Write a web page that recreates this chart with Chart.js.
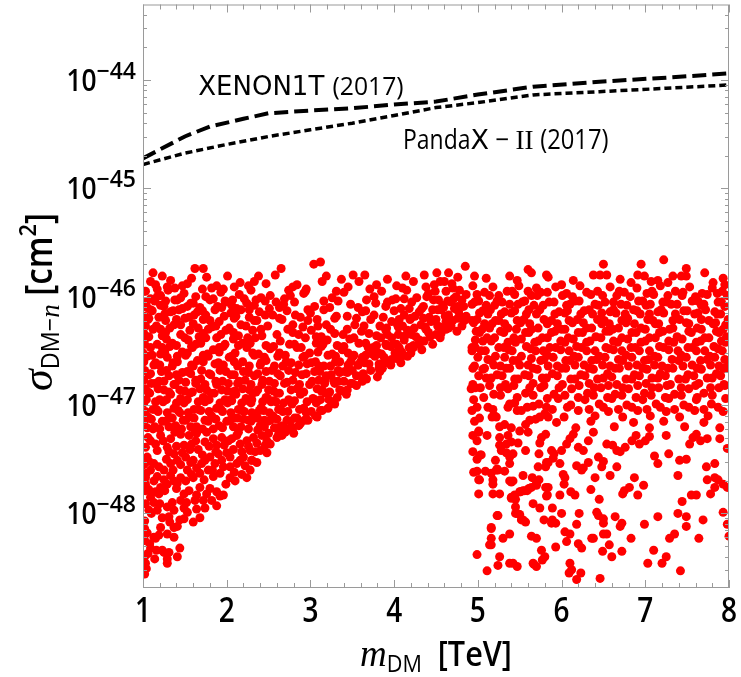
<!DOCTYPE html>
<html>
<head>
<meta charset="utf-8">
<title>DM-nucleon cross section scan</title>
<script src="https://cdn.jsdelivr.net/npm/chart.js@4.4.1/dist/chart.umd.min.js"></script>
<style>
  html, body { margin: 0; padding: 0; background: #fff; }
  #wrap { width: 741px; height: 677px; }
</style>
</head>
<body>
<div id="wrap"><canvas id="chart" width="741" height="677"></canvas></div>
<script>
// Axis ranges and ticks
const xRange = [1, 8];
const yRange = [2.05e-49, 4.97e-44];
const xTicks = [1, 2, 3, 4, 5, 6, 7, 8];
const yDecades = [-48, -47, -46, -45, -44];

// Experimental limits (m in TeV, sigma in cm^2)
const xenonMass  = [1.0, 1.5, 1.8, 2.2, 2.5, 3.0, 3.5, 4.0, 4.5, 5.0, 5.66, 6.45, 7.25, 8.0];
const xenonSigma = [1.89e-45, 3.01e-45, 3.72e-45, 4.38e-45, 4.93e-45, 5.22e-45, 5.48e-45, 5.93e-45, 6.32e-45, 7.33e-45, 8.67e-45, 9.64e-45, 1.05e-44, 1.15e-44];
const pandaMass  = [1.0, 1.5, 2.0, 2.5, 3.0, 3.5, 4.0, 4.5, 5.0, 5.66, 6.45, 7.25, 8.0];
const pandaSigma = [1.66e-45, 2.11e-45, 2.54e-45, 3.01e-45, 3.47e-45, 3.99e-45, 4.70e-45, 5.56e-45, 6.18e-45, 7.28e-45, 7.80e-45, 8.38e-45, 8.99e-45];

// Scan points below the limits: [m_DM (TeV), log10 sigma]
const scanTop = [
  [1.12,-45.78],[1.23,-45.81],[1.62,-45.74],[1.72,-45.74],[2.01,-45.81],[2.38,-45.81],[2.65,-45.74],[3.04,-45.70],[3.12,-45.68],[3.19,-45.81],
  [3.51,-45.80],[3.65,-45.80],[4.14,-45.81],[4.23,-45.86],[4.38,-45.91],[4.03,-45.90],[3.79,-45.89],[3.37,-45.84],[3.31,-45.95],[3.14,-45.86],
  [2.84,-45.89],[2.74,-45.94],[2.92,-45.97],[2.16,-45.87],[2.26,-45.90],[1.82,-45.92],[1.47,-45.90],[1.33,-45.85],[1.17,-45.93],[1.03,-45.95],
  [1.58,-45.83],[1.09,-45.86],[1.29,-45.91],[1.76,-45.82],[1.96,-45.93],[2.47,-45.88],[2.58,-45.80],[2.95,-45.93],[3.58,-45.86],[3.92,-45.84],
  [4.36,-45.80],[4.60,-45.86],[4.76,-45.82],[4.51,-45.78],[4.55,-45.86],[4.65,-45.78],[4.85,-45.72],
  [4.96,-45.81],[5.10,-45.83],[5.38,-45.81],[5.47,-45.85],[5.60,-45.75],[5.64,-45.78],[5.82,-45.80],[5.84,-45.82],[5.60,-45.95],[5.70,-45.92],
  [6.00,-45.89],[6.14,-45.85],[6.38,-45.80],[6.46,-45.80],[6.50,-45.70],[6.54,-45.80],[6.70,-45.84],[6.83,-45.87],[6.91,-45.80],[6.95,-45.70],
  [6.99,-45.81],[7.07,-45.86],[7.15,-45.85],[7.22,-45.66],[7.27,-45.87],[7.33,-45.81],[7.43,-45.81],[7.49,-45.74],[7.49,-45.81],[7.71,-45.78],
  [7.81,-45.87],[7.93,-45.83],[7.95,-45.89]
];

const scanLowMass = [
  [1.01,-45.95],[1.09,-46.02],[1.21,-45.99],[1.30,-45.94],[1.41,-46.03],[1.49,-45.97],[1.63,-46.00],[1.71,-45.93],[1.84,-46.02],[1.93,-45.96],
  [2.07,-46.03],[2.15,-45.98],[2.29,-45.94],[2.35,-46.03],[2.52,-45.99],[2.69,-46.02],[2.94,-45.95],[3.26,-46.01],[3.40,-45.96],[3.67,-46.03],
  [3.85,-45.95],[4.02,-46.02],[4.15,-45.94],[4.27,-46.01],[4.41,-45.97],[4.53,-46.03],[4.62,-45.95],[4.74,-46.00],
  [1.05,-46.10],[1.14,-46.04],[1.25,-46.09],[1.38,-46.03],[1.47,-46.11],[1.60,-46.06],[1.68,-46.10],[1.80,-46.03],[1.89,-46.09],[2.00,-46.05],
  [2.12,-46.11],[2.21,-46.02],[2.33,-46.08],[2.46,-46.04],[2.63,-46.10],[2.81,-46.05],[3.05,-46.09],[3.33,-46.04],[3.57,-46.10],[3.78,-46.06],
  [3.98,-46.03],[4.08,-46.11],[4.21,-46.05],[4.35,-46.09],[4.47,-46.03],[4.59,-46.10],[4.68,-46.05],[4.83,-46.09],
  [1.02,-46.18],[1.11,-46.13],[1.19,-46.19],[1.33,-46.14],[1.43,-46.12],[1.55,-46.19],[1.65,-46.14],[1.75,-46.17],[1.86,-46.12],[1.97,-46.18],
  [2.05,-46.15],[2.17,-46.12],[2.27,-46.19],[2.39,-46.14],[2.55,-46.17],[2.72,-46.13],[2.88,-46.19],[3.00,-46.15],[3.16,-46.12],[3.44,-46.18],
  [3.62,-46.14],[3.87,-46.19],[4.00,-46.13],[4.12,-46.17],[4.30,-46.14],[4.42,-46.19],[4.56,-46.12],[4.65,-46.17],[4.77,-46.14],[4.86,-46.18],
  [1.06,-46.21],[1.16,-46.27],[1.27,-46.22],[1.37,-46.26],[1.50,-46.20],[1.60,-46.25],[1.72,-46.21],[1.82,-46.28],[1.91,-46.23],[2.09,-46.20],
  [2.23,-46.27],[2.36,-46.22],[2.49,-46.27],[2.66,-46.21],[2.79,-46.26],[2.97,-46.22],[3.09,-46.27],[3.29,-46.20],[3.53,-46.26],[3.72,-46.21],
  [3.83,-46.27],[3.97,-46.23],[4.10,-46.27],[4.19,-46.21],[4.32,-46.26],[4.44,-46.23],[4.55,-46.28],[4.70,-46.22],[4.81,-46.27],
  [1.01,-46.34],[1.12,-46.30],[1.23,-46.36],[1.32,-46.29],[1.45,-46.35],[1.56,-46.31],[1.67,-46.37],[1.78,-46.30],[1.93,-46.35],[2.03,-46.29],
  [2.14,-46.36],[2.31,-46.31],[2.42,-46.36],[2.73,-46.30],[2.86,-46.35],[3.01,-46.31],[3.13,-46.37],[3.24,-46.30],[3.39,-46.35],[3.61,-46.32],
  [3.79,-46.36],[3.91,-46.29],[4.05,-46.35],[4.16,-46.31],[4.26,-46.37],[4.38,-46.30],[4.50,-46.35],[4.62,-46.30],
  [1.04,-46.38],[1.17,-46.44],[1.28,-46.39],[1.40,-46.45],[1.54,-46.40],[1.63,-46.44],[1.75,-46.38],[1.98,-46.44],[2.08,-46.39],[2.19,-46.43],
  [2.34,-46.38],[2.47,-46.45],[2.64,-46.41],[2.81,-46.44],[2.94,-46.38],[3.07,-46.43],[3.20,-46.40],[3.32,-46.45],[3.47,-46.39],[3.66,-46.43],
  [3.84,-46.38],[3.99,-46.44],[4.12,-46.40],[4.23,-46.45],[4.36,-46.41],[4.46,-46.44],
  [1.00,-46.52],[1.09,-46.47],[1.21,-46.53],[1.32,-46.46],[1.47,-46.51],[1.59,-46.47],[1.72,-46.54],[1.84,-46.49],[1.96,-46.46],[2.10,-46.52],
  [2.24,-46.47],[2.38,-46.53],[2.52,-46.48],[2.70,-46.54],[2.84,-46.47],[2.99,-46.52],[3.13,-46.46],[3.26,-46.53],[3.38,-46.49],[3.52,-46.54],
  [3.69,-46.47],[3.81,-46.52],[3.96,-46.46],[4.09,-46.51],[4.23,-46.47],[4.33,-46.49],
  [1.05,-46.55],[1.15,-46.61],[1.29,-46.56],[1.41,-46.60],[1.51,-46.54],[1.65,-46.59],[1.78,-46.55],[1.90,-46.61],[2.03,-46.56],[2.19,-46.60],
  [2.33,-46.54],[2.47,-46.59],[2.61,-46.55],[2.77,-46.61],[2.91,-46.56],[3.06,-46.60],[3.21,-46.54],[3.35,-46.60],[3.50,-46.56],[3.65,-46.61],
  [3.77,-46.55],[3.89,-46.61],[4.03,-46.57],[4.16,-46.55],
  [1.02,-46.68],[1.13,-46.63],[1.22,-46.69],[1.35,-46.64],[1.47,-46.70],[1.58,-46.63],[1.70,-46.68],[1.86,-46.62],[1.99,-46.69],[2.13,-46.64],
  [2.26,-46.70],[2.40,-46.63],[2.54,-46.68],[2.67,-46.64],[2.82,-46.70],[2.96,-46.62],[3.11,-46.69],[3.24,-46.64],[3.41,-46.69],[3.57,-46.63],
  [3.72,-46.68],[3.86,-46.66],[3.96,-46.63],
  [1.07,-46.72],[1.19,-46.78],[1.31,-46.73],[1.43,-46.77],[1.57,-46.71],[1.69,-46.76],[1.81,-46.72],[1.95,-46.78],[2.09,-46.72],[2.22,-46.77],
  [2.37,-46.71],[2.51,-46.78],[2.64,-46.73],[2.79,-46.77],[2.95,-46.71],[3.10,-46.77],[3.25,-46.72],[3.40,-46.78],[3.55,-46.73],[3.67,-46.76],
  [3.80,-46.74],
  [1.03,-46.85],[1.10,-46.80],[1.25,-46.86],[1.38,-46.81],[1.50,-46.87],[1.63,-46.80],[1.76,-46.86],[1.88,-46.81],[2.01,-46.87],[2.13,-46.80],
  [2.27,-46.86],[2.42,-46.81],[2.56,-46.87],[2.69,-46.80],[2.84,-46.85],[2.99,-46.81],[3.14,-46.86],[3.29,-46.80],[3.44,-46.86],[3.55,-46.82],
  [1.08,-46.89],[1.20,-46.95],[1.33,-46.90],[1.45,-46.94],[1.59,-46.88],[1.72,-46.93],[1.85,-46.89],[1.98,-46.95],[2.11,-46.90],[2.23,-46.94],
  [2.35,-46.88],[2.47,-46.93],[2.60,-46.89],[2.74,-46.95],[2.88,-46.90],[3.03,-46.94],[3.18,-46.89],[3.32,-46.93],[3.43,-46.90],
  [1.01,-46.98],[1.12,-47.04],[1.24,-46.97],[1.37,-47.03],[1.49,-46.98],[1.61,-47.04],[1.74,-46.97],[1.88,-47.03],[2.01,-46.98],[2.17,-47.04],
  [2.29,-46.98],[2.41,-47.03],[2.53,-46.97],[2.64,-47.04],[2.78,-46.99],[2.92,-47.03],[3.07,-46.98],[3.21,-47.03],[3.29,-46.99],
  [1.06,-47.11],[1.18,-47.06],[1.31,-47.12],[1.44,-47.07],[1.56,-47.11],[1.69,-47.05],[1.82,-47.10],[1.95,-47.06],[2.09,-47.12],[2.21,-47.06],
  [2.33,-47.11],[2.44,-47.05],[2.56,-47.11],[2.67,-47.06],[2.81,-47.12],[2.95,-47.07],[3.08,-47.11],
  [1.02,-47.14],[1.14,-47.20],[1.27,-47.15],[1.39,-47.19],[1.51,-47.14],[1.64,-47.20],[1.78,-47.15],[1.91,-47.19],[2.04,-47.14],[2.17,-47.20],
  [2.29,-47.15],[2.40,-47.19],[2.52,-47.14],[2.64,-47.20],[2.76,-47.15],[2.86,-47.19],
  [1.12,-47.22],[1.38,-47.25],[1.62,-47.23],[1.84,-47.22],[2.14,-47.25],[2.37,-47.23],[2.50,-47.26],[2.61,-47.22],[2.70,-47.25],
  [2.05,-46.95],[2.14,-47.04],[2.26,-46.96],[2.33,-47.12],[2.41,-47.03],[2.49,-46.94],[2.55,-47.10],[2.20,-47.13],[2.10,-46.87],[2.37,-46.86],
  [2.59,-46.97],[2.45,-47.14],
  [3.05,-46.95],[3.13,-46.87],[3.22,-46.95],[3.28,-46.78],[3.35,-46.86],[3.44,-46.70],[3.50,-46.80],[3.57,-46.63],[3.63,-46.72],[3.70,-46.62],
  [3.74,-46.53],[3.82,-46.66],[3.88,-46.56],[3.91,-46.45],[3.97,-46.58],[4.03,-46.44],[4.09,-46.55],[4.13,-46.36],[4.18,-46.47],[4.24,-46.29],
  [4.30,-46.40],[4.35,-46.20],[4.41,-46.33],[4.46,-46.12],[4.52,-46.27],[4.55,-46.38],[4.61,-46.18],[4.64,-46.04],[4.68,-46.27],[4.72,-46.11],
  [4.76,-46.20],[4.78,-45.94],[4.81,-46.03],[4.84,-46.22],[4.86,-45.98],[4.70,-45.92],[4.58,-46.08],[4.49,-45.95],[4.33,-46.11],[4.20,-46.20],
  [4.05,-46.28],[3.92,-46.35],[3.79,-46.45],[3.66,-46.54],[3.48,-46.60],[3.33,-46.68],[3.18,-46.76],[3.10,-46.64],
  [2.34,-47.43],[2.30,-47.51],[2.48,-47.33],[2.62,-47.27],[2.74,-47.22],[2.80,-47.26],[2.88,-47.17],[2.97,-47.14],[3.06,-47.10],[3.12,-47.05],
  [1.02,-48.56],[1.04,-48.51],[1.03,-48.46],[1.02,-48.40],[1.09,-48.32],[1.14,-48.42],[1.16,-48.34],[1.23,-48.34],[1.25,-48.36],[1.29,-48.42],
  [1.29,-48.46],[1.31,-48.36],[1.44,-48.32],[1.41,-48.40],[1.02,-48.25],[1.13,-48.22],[1.15,-48.23],[1.02,-48.14],[1.02,-48.07],[1.21,-48.13],
  [1.29,-48.19],[1.37,-48.13],[1.41,-48.12],[1.23,-48.04],[1.31,-48.03],[1.44,-48.06],[1.49,-48.05],[1.60,-48.08],[1.68,-48.04],[1.64,-47.96],
  [1.74,-47.95],[1.88,-47.93],[1.82,-47.88],[1.92,-47.84],[1.96,-47.83],[1.72,-47.88],[1.76,-47.82],[1.55,-47.79],[1.45,-47.88],[1.35,-47.90],
  [1.13,-47.90],[1.07,-47.97],[1.17,-47.97],[1.03,-47.91],[1.03,-47.79],[1.03,-47.73],[1.03,-47.67],[1.09,-47.85],[1.19,-47.82],[1.29,-47.94],
  [1.37,-47.97],[1.49,-47.95],[1.53,-47.99],[1.64,-47.83],[1.68,-47.76],[1.80,-47.77],[1.88,-47.80],[2.04,-47.67],[2.10,-47.70],[2.18,-47.64],
  [2.24,-47.67],[2.04,-47.57],[2.12,-47.54],[2.22,-47.56],[2.30,-47.51],[2.36,-47.53],[2.20,-47.48],[2.28,-47.42],[2.40,-47.42],[2.46,-47.37],
  [2.52,-47.36],[2.60,-47.30],[2.66,-47.28],[2.48,-47.44],[1.92,-47.63],[1.96,-47.57],[1.86,-47.54],[1.78,-47.60],[1.68,-47.63],[1.60,-47.67],
  [1.53,-47.60],[1.45,-47.67],[1.37,-47.70],[1.29,-47.73],[1.21,-47.76],[1.13,-47.70],[1.09,-47.60],[1.25,-47.60],[1.33,-47.54],[1.41,-47.51],
  [1.51,-47.48],[1.60,-47.51],[1.70,-47.54],[1.80,-47.48],[1.90,-47.45],[2.00,-47.44],[2.08,-47.41],[2.16,-47.36],[2.24,-47.33],[2.32,-47.30],
  [2.42,-47.28],[1.13,-47.54],[1.05,-47.48],[1.17,-47.42],[1.29,-47.39],[1.37,-47.45],[1.49,-47.37],[1.58,-47.36],[1.66,-47.41],[1.74,-47.34],
  [1.84,-47.31],[1.94,-47.30],[2.02,-47.33],[2.12,-47.28],[1.03,-47.39],[1.09,-47.33],[1.21,-47.28],[1.33,-47.31],[1.45,-47.27],[1.55,-47.28],
  [1.64,-47.26],[1.76,-47.25],[1.88,-47.37],[2.04,-47.48],
  [1.06,-47.30],[1.15,-47.36],[1.24,-47.33],[1.31,-47.43],[1.40,-47.38],[1.47,-47.44],[1.56,-47.41],[1.63,-47.33],[1.71,-47.46],[1.79,-47.38],
  [1.87,-47.43],[1.97,-47.37],[2.06,-47.31],[2.18,-47.43],[2.26,-47.38],[2.36,-47.35],
  [1.01,-47.55],[1.07,-47.52],[1.19,-47.57],[1.28,-47.50],[1.36,-47.60],[1.45,-47.55],[1.57,-47.53],[1.64,-47.58],[1.74,-47.51],[1.83,-47.60],
  [1.94,-47.51],[2.09,-47.62],[2.16,-47.51],[2.28,-47.60],
  [1.04,-47.63],[1.17,-47.66],[1.25,-47.69],[1.33,-47.65],[1.41,-47.72],[1.51,-47.70],[1.58,-47.64],[1.73,-47.69],[1.84,-47.66],[1.99,-47.73],
  [1.07,-47.78],[1.15,-47.80],[1.26,-47.79],[1.40,-47.77],[1.49,-47.82],[1.62,-47.88],[1.10,-48.00],[1.20,-47.91],[1.32,-48.08],[1.52,-47.90],
  [1.05,-48.18],[1.08,-48.28],[1.19,-48.20],[1.06,-48.37],[1.37,-48.22]
];

// extra points read between the rows above (dense parts of both regions)
const scanFill = [
  [1.15,-45.89],[1.38,-45.92],[1.53,-45.88],[1.88,-45.90],[2.09,-45.91],[2.33,-45.86],[2.79,-45.91],[3.45,-45.91],[3.71,-45.93],[4.10,-45.92],
  [4.48,-45.89],[4.69,-45.88],
  [1.04,-46.05],[1.17,-46.00],[1.27,-46.04],[1.45,-46.01],[1.57,-46.06],[1.75,-46.00],[1.98,-46.04],[2.24,-46.06],[2.41,-46.01],[2.59,-46.05],
  [2.76,-45.99],[3.16,-46.04],[3.48,-46.07],[3.76,-46.00],[3.92,-46.05],[4.12,-46.02],[4.39,-46.00],[4.71,-46.02],
  [1.09,-46.12],[1.21,-46.08],[1.36,-46.13],[1.53,-46.09],[1.71,-46.13],[1.94,-46.10],[2.06,-46.08],[2.27,-46.12],[2.51,-46.11],[2.68,-46.07],
  [2.97,-46.12],[3.23,-46.10],[3.66,-46.13],[3.90,-46.09],[4.18,-46.11],[4.52,-46.12],[4.76,-46.09],
  [1.07,-46.20],[1.26,-46.16],[1.40,-46.21],[1.61,-46.17],[1.80,-46.22],[2.11,-46.18],[2.33,-46.22],[2.46,-46.17],[2.63,-46.20],[2.82,-46.17],
  [3.08,-46.21],[3.31,-46.18],[3.55,-46.20],[3.76,-46.17],[4.06,-46.21],[4.25,-46.18],[4.50,-46.21],[4.62,-46.23],[4.80,-46.19],
  [1.03,-46.27],[1.21,-46.30],[1.45,-46.26],[1.66,-46.29],[1.87,-46.27],[1.99,-46.31],[2.17,-46.26],[2.41,-46.30],[2.91,-46.28],[3.19,-46.26],
  [3.44,-46.30],[3.64,-46.27],[3.90,-46.31],[4.04,-46.26],[4.37,-46.28],[4.65,-46.29],[4.75,-46.32],
  [1.07,-46.37],[1.27,-46.33],[1.50,-46.38],[1.72,-46.34],[1.88,-46.38],[2.08,-46.33],[2.25,-46.38],[2.60,-46.35],[2.79,-46.33],[3.07,-46.37],
  [3.29,-46.34],[3.52,-46.38],[3.70,-46.34],[3.97,-46.38],[4.21,-46.35],[4.43,-46.37],[4.56,-46.34],
  [1.02,-46.44],[1.23,-46.47],[1.35,-46.43],[1.58,-46.46],[1.69,-46.43],[1.91,-46.47],[2.14,-46.45],[2.28,-46.43],[2.56,-46.46],[2.75,-46.44],
  [2.89,-46.47],[3.15,-46.44],[3.40,-46.46],[3.58,-46.43],[3.75,-46.47],[3.90,-46.44],[4.06,-46.47],[4.30,-46.44],
  [1.11,-46.54],[1.26,-46.51],[1.41,-46.55],[1.53,-46.52],[1.77,-46.53],[1.91,-46.51],[2.06,-46.55],[2.31,-46.52],[2.45,-46.56],[2.63,-46.52],
  [2.93,-46.55],[3.09,-46.51],[3.30,-46.55],[3.45,-46.52],[3.62,-46.56],[3.85,-46.53],[4.01,-46.52],[4.20,-46.52],
  [1.01,-46.60],[1.20,-46.63],[1.36,-46.61],[1.60,-46.64],[1.72,-46.60],[1.96,-46.63],[2.09,-46.60],[2.27,-46.64],[2.41,-46.61],[2.57,-46.64],
  [2.71,-46.60],[2.86,-46.63],[3.01,-46.61],[3.16,-46.64],[3.30,-46.60],[3.45,-46.63],[3.60,-46.60],[3.82,-46.62],[4.08,-46.61],
  [1.09,-46.71],[1.28,-46.68],[1.40,-46.72],[1.53,-46.69],[1.79,-46.71],[1.92,-46.68],[2.05,-46.72],[2.20,-46.69],[2.33,-46.73],[2.47,-46.69],
  [2.61,-46.71],[2.74,-46.68],[2.90,-46.72],[3.05,-46.69],[3.19,-46.73],[3.35,-46.70],[3.50,-46.68],[3.63,-46.71],[3.83,-46.69],
  [1.01,-46.77],[1.14,-46.80],[1.25,-46.78],[1.37,-46.81],[1.51,-46.79],[1.63,-46.77],[1.74,-46.81],[1.87,-46.78],[2.02,-46.80],[2.15,-46.78],
  [2.29,-46.81],[2.43,-46.77],[2.57,-46.80],[2.72,-46.79],[2.87,-46.81],[3.02,-46.78],[3.17,-46.80],[3.33,-46.78],[3.48,-46.80],[3.62,-46.78],
  [1.06,-46.88],[1.18,-46.85],[1.31,-46.88],[1.44,-46.86],[1.56,-46.89],[1.68,-46.85],[1.81,-46.89],[1.94,-46.86],[2.07,-46.88],[2.19,-46.85],
  [2.31,-46.89],[2.50,-46.86],[2.63,-46.89],[2.77,-46.86],[2.92,-46.88],[3.08,-46.85],[3.23,-46.88],[3.38,-46.87],
  [1.04,-46.95],[1.15,-46.97],[1.28,-46.95],[1.40,-46.98],[1.53,-46.95],[1.66,-46.97],[1.79,-46.95],[1.92,-46.98],[2.06,-46.96],[2.18,-46.98],
  [2.30,-46.95],[2.43,-46.97],[2.56,-46.96],[2.68,-46.98],[2.81,-46.96],[2.96,-46.97],[3.12,-46.95],[3.25,-46.97],
  [1.03,-47.06],[1.16,-47.04],[1.29,-47.07],[1.42,-47.05],[1.54,-47.07],[1.66,-47.04],[1.79,-47.06],[1.93,-47.04],[2.05,-47.07],[2.18,-47.05],
  [2.30,-47.07],[2.39,-47.05],[2.51,-47.07],[2.62,-47.04],[2.73,-47.06],[2.87,-47.04],[3.01,-47.06],[3.14,-47.05],
  [1.10,-47.13],[1.23,-47.15],[1.35,-47.12],[1.48,-47.14],[1.61,-47.12],[1.74,-47.14],[1.87,-47.13],[2.00,-47.15],[2.13,-47.12],[2.26,-47.14],
  [2.37,-47.12],[2.49,-47.15],[2.60,-47.13],[2.72,-47.14],[2.84,-47.12],[2.93,-47.14],
  [1.05,-47.21],[1.20,-47.22],[1.31,-47.20],[1.46,-47.22],[1.57,-47.20],[1.71,-47.22],[1.95,-47.21],[2.08,-47.20],[2.26,-47.22],[2.45,-47.20],
  [2.57,-47.21],[2.67,-47.19],[2.79,-47.21],
  [4.99,-45.98],[5.25,-45.99],[5.41,-45.95],[5.64,-45.99],[5.83,-45.96],[6.13,-46.00],[6.30,-45.96],[6.49,-45.99],[6.69,-45.95],[6.82,-46.00],
  [7.08,-45.95],[7.27,-45.99],[7.45,-45.96],[7.60,-46.00],[7.86,-45.97],
  [4.96,-46.05],[5.10,-46.08],[5.23,-46.04],[5.38,-46.07],[5.53,-46.05],[5.67,-46.08],[5.91,-46.05],[6.06,-46.08],[6.21,-46.04],[6.40,-46.07],
  [6.62,-46.05],[6.78,-46.08],[6.92,-46.04],[7.06,-46.07],[7.21,-46.05],[7.38,-46.07],[7.56,-46.04],[7.70,-46.07],[7.91,-46.05],
  [5.02,-46.15],[5.15,-46.12],[5.28,-46.16],[5.44,-46.13],[5.58,-46.16],[5.74,-46.12],[5.92,-46.16],[6.07,-46.13],[6.23,-46.16],[6.33,-46.12],
  [6.48,-46.15],[6.62,-46.12],[6.76,-46.16],[6.90,-46.13],[7.05,-46.16],[7.19,-46.12],[7.36,-46.16],[7.46,-46.13],[7.63,-46.15],[7.72,-46.12],
  [7.86,-46.16],
  [4.93,-46.22],[5.08,-46.25],[5.21,-46.22],[5.32,-46.25],[5.47,-46.22],[5.62,-46.25],[5.79,-46.21],[5.95,-46.25],[6.09,-46.22],[6.26,-46.24],
  [6.43,-46.21],[6.57,-46.25],[6.72,-46.22],[6.87,-46.25],[7.03,-46.21],[7.16,-46.25],[7.33,-46.22],[7.52,-46.25],[7.67,-46.21],[7.84,-46.24],
  [7.96,-46.26],
  [4.98,-46.32],[5.14,-46.29],[5.31,-46.33],[5.46,-46.30],[5.57,-46.33],[5.72,-46.29],[5.88,-46.33],[6.04,-46.30],[6.20,-46.33],[6.36,-46.29],
  [6.53,-46.32],[6.68,-46.29],[6.84,-46.33],[7.00,-46.30],[7.17,-46.33],[7.33,-46.29],[7.52,-46.32],[7.67,-46.30],[7.88,-46.33],
  [5.06,-46.41],[5.20,-46.38],[5.36,-46.42],[5.52,-46.39],[5.68,-46.42],[5.83,-46.38],[5.99,-46.41],[6.14,-46.39],[6.30,-46.42],[6.47,-46.38],
  [6.62,-46.41],[6.79,-46.39],[6.95,-46.42],[7.12,-46.38],[7.28,-46.41],[7.44,-46.39],[7.61,-46.42],[7.76,-46.38],[7.91,-46.41],
  [4.93,-46.47],[5.09,-46.50],[5.25,-46.47],[5.41,-46.50],[5.63,-46.48],[5.78,-46.50],[5.93,-46.47],[6.09,-46.50],[6.24,-46.47],[6.40,-46.50],
  [6.57,-46.48],[6.72,-46.50],[6.88,-46.47],[7.05,-46.50],[7.22,-46.47],[7.39,-46.50],[7.56,-46.47],[7.71,-46.50],[7.87,-46.48],
  [5.00,-46.56],[5.16,-46.59],[5.32,-46.56],[5.47,-46.59],[5.64,-46.57],[5.75,-46.59],[5.90,-46.56],[6.05,-46.59],[6.20,-46.56],[6.36,-46.59],
  [6.52,-46.56],[6.68,-46.58],[6.84,-46.56],[6.99,-46.59],[7.15,-46.56],[7.32,-46.58],[7.49,-46.56],[7.66,-46.59],[7.83,-46.56],[7.95,-46.58],
  [5.08,-46.66],[5.19,-46.63],[5.34,-46.66],[5.50,-46.63],[5.66,-46.66],[5.84,-46.64],[6.00,-46.66],[6.16,-46.63],[6.33,-46.66],[6.49,-46.63],
  [6.64,-46.66],[6.80,-46.64],[6.97,-46.66],[7.11,-46.63],[7.27,-46.66],[7.45,-46.64],[7.62,-46.66],[7.78,-46.63],[7.93,-46.66],
  [5.01,-46.73],[5.16,-46.75],[5.29,-46.73],[5.44,-46.76],[5.61,-46.73],[5.77,-46.75],[5.95,-46.73],[6.11,-46.76],[6.28,-46.73],[6.43,-46.76],
  [6.60,-46.74],[6.77,-46.76],[6.93,-46.73],[7.08,-46.75],[7.24,-46.73],[7.40,-46.76],[7.58,-46.73],[7.74,-46.75],[7.90,-46.73],
  [4.97,-46.84],[5.14,-46.82],[5.27,-46.84],[5.43,-46.82],[5.62,-46.84],[5.79,-46.82],[5.97,-46.84],[6.21,-46.82],[6.39,-46.84],[6.56,-46.82],
  [6.73,-46.84],[6.91,-46.82],[7.08,-46.84],[7.26,-46.82],[7.43,-46.84],[7.60,-46.82],[7.78,-46.84],[7.95,-46.82],
  [5.07,-46.93],[5.27,-46.91],[5.47,-46.93],[5.66,-46.91],[5.83,-46.94],[6.04,-46.91],[6.20,-46.93],[6.38,-46.91],[6.55,-46.93],[6.72,-46.91],
  [6.89,-46.93],[7.07,-46.91],[7.24,-46.93],[7.43,-46.91],[7.62,-46.93],[7.80,-46.91],
  [6.07,-47.02],[6.33,-47.04],[6.50,-47.02],[6.68,-47.04],[6.84,-47.02],[7.02,-47.04],[7.18,-47.02],[7.35,-47.04],[7.52,-47.02],[7.70,-47.04],
  [7.87,-47.02]
];

const scanHighMass = [
  [4.94,-45.90],[5.08,-45.96],[5.18,-45.91],[5.35,-45.95],[5.49,-45.90],[5.75,-45.96],[5.93,-45.91],[6.06,-45.97],[6.22,-45.90],[6.43,-45.95],
  [6.58,-45.91],[6.75,-45.96],[6.90,-45.92],[7.02,-45.97],[7.18,-45.90],[7.36,-45.95],[7.53,-45.91],[7.68,-45.97],[7.80,-45.92],[7.92,-45.95],
  [5.01,-46.04],[5.14,-45.99],[5.29,-46.05],[5.44,-45.98],[5.56,-46.04],[5.71,-45.99],[5.85,-46.05],[6.01,-45.99],[6.16,-46.04],[6.35,-45.98],
  [6.52,-46.05],[6.66,-45.99],[6.97,-46.04],[7.10,-45.98],[7.26,-46.05],[7.44,-45.99],[7.63,-46.04],[7.74,-45.98],[7.87,-46.05],[7.98,-45.99],
  [4.93,-46.07],[5.06,-46.13],[5.20,-46.08],[5.32,-46.14],[5.48,-46.07],[5.61,-46.12],[5.78,-46.08],[5.97,-46.14],[6.10,-46.07],[6.27,-46.13],
  [6.44,-46.08],[6.58,-46.14],[6.71,-46.07],[6.86,-46.12],[7.01,-46.08],[7.15,-46.14],[7.31,-46.07],[7.50,-46.13],[7.67,-46.08],[7.83,-46.14],
  [7.95,-46.09],
  [4.99,-46.21],[5.12,-46.16],[5.25,-46.22],[5.40,-46.15],[5.55,-46.21],[5.70,-46.16],[5.88,-46.22],[6.04,-46.15],[6.19,-46.21],[6.37,-46.16],
  [6.51,-46.22],[6.65,-46.15],[6.79,-46.20],[6.94,-46.16],[7.09,-46.22],[7.22,-46.15],[7.41,-46.21],[7.59,-46.16],[7.76,-46.22],[7.90,-46.16],
  [7.99,-46.21],
  [4.95,-46.24],[5.05,-46.30],[5.17,-46.25],[5.36,-46.29],[5.51,-46.24],[5.64,-46.30],[5.83,-46.25],[6.00,-46.30],[6.13,-46.24],[6.30,-46.29],
  [6.48,-46.25],[6.61,-46.30],[6.77,-46.24],[6.95,-46.29],[7.12,-46.25],[7.29,-46.30],[7.49,-46.24],[7.62,-46.29],[7.81,-46.25],[7.93,-46.30],
  [5.02,-46.33],[5.11,-46.38],[5.27,-46.32],[5.43,-46.38],[5.61,-46.33],[5.77,-46.38],[5.92,-46.32],[6.08,-46.38],[6.25,-46.33],[6.41,-46.37],
  [6.57,-46.32],[6.72,-46.38],[6.89,-46.33],[7.05,-46.38],[7.21,-46.32],[7.38,-46.37],[7.55,-46.33],[7.71,-46.38],[7.85,-46.32],[7.97,-46.37],
  [4.97,-46.47],[5.16,-46.41],[5.31,-46.47],[5.45,-46.42],[5.58,-46.46],[5.72,-46.41],[5.86,-46.47],[6.04,-46.42],[6.18,-46.46],[6.34,-46.41],
  [6.53,-46.47],[6.67,-46.42],[6.83,-46.47],[7.00,-46.41],[7.17,-46.46],[7.34,-46.42],[7.51,-46.47],[7.66,-46.41],[7.82,-46.46],[7.96,-46.42],
  [5.04,-46.50],[5.21,-46.55],[5.37,-46.49],[5.52,-46.55],[5.69,-46.50],[5.83,-46.54],[5.99,-46.49],[6.15,-46.55],[6.30,-46.50],[6.45,-46.55],
  [6.62,-46.49],[6.77,-46.54],[6.93,-46.50],[7.11,-46.55],[7.28,-46.49],[7.43,-46.54],[7.61,-46.50],[7.77,-46.55],[7.92,-46.50],
  [4.96,-46.64],[5.12,-46.58],[5.27,-46.64],[5.42,-46.59],[5.60,-46.63],[5.79,-46.58],[5.95,-46.64],[6.10,-46.59],[6.27,-46.63],[6.42,-46.58],
  [6.58,-46.64],[6.73,-46.59],[6.90,-46.63],[7.04,-46.58],[7.20,-46.64],[7.40,-46.59],[7.56,-46.63],[7.74,-46.58],[7.88,-46.64],[7.99,-46.59],
  [5.06,-46.67],[5.23,-46.72],[5.38,-46.66],[5.56,-46.72],[5.71,-46.67],[5.89,-46.71],[6.05,-46.66],[6.23,-46.72],[6.38,-46.67],[6.55,-46.71],
  [6.69,-46.66],[6.87,-46.72],[7.02,-46.67],[7.18,-46.71],[7.33,-46.66],[7.51,-46.72],[7.67,-46.67],[7.85,-46.71],[7.96,-46.66],
  [4.94,-46.81],[5.10,-46.75],[5.33,-46.81],[5.48,-46.76],[5.66,-46.80],[5.82,-46.75],[6.01,-46.81],[6.16,-46.76],[6.33,-46.80],[6.50,-46.75],
  [6.66,-46.81],[6.84,-46.76],[7.01,-46.80],[7.15,-46.75],[7.30,-46.81],[7.48,-46.76],[7.64,-46.80],[7.80,-46.75],[7.94,-46.81],
  [5.03,-46.84],[5.19,-46.90],[5.36,-46.85],[5.57,-46.89],[5.75,-46.84],[5.91,-46.90],[6.12,-46.85],[6.31,-46.89],[6.47,-46.84],[6.64,-46.90],
  [6.80,-46.85],[6.99,-46.89],[7.16,-46.84],[7.35,-46.90],[7.52,-46.85],[7.70,-46.89],[7.88,-46.84],
  [5.96,-46.94],[6.11,-47.00],[6.28,-46.95],[6.45,-46.99],[6.60,-46.94],[6.78,-47.00],[6.97,-46.95],[7.13,-46.99],[7.28,-46.94],[7.46,-47.00],
  [7.61,-46.95],[7.79,-46.99],[7.96,-46.94],
  [6.03,-47.11],[6.20,-47.05],[6.40,-47.10],[6.56,-47.06],[6.73,-47.11],[6.91,-47.05],[7.06,-47.10],[7.25,-47.06],[7.41,-47.11],[7.59,-47.05],
  [7.75,-47.10],[7.93,-47.06],
  [5.94,-47.16],[6.17,-47.21],[6.35,-47.15],[6.63,-47.20],[6.86,-47.16],[7.05,-47.21],[7.22,-47.15],[7.47,-47.20],[7.70,-47.16],[7.89,-47.21],
  [4.93,-46.50],[4.94,-46.66],[4.92,-46.85],[4.95,-46.95],[4.93,-47.05],[4.96,-47.15],[4.94,-47.28],[4.97,-46.40],[4.99,-47.50],[4.95,-47.62],
  [4.99,-47.02],[5.02,-47.12],[5.01,-47.25],[4.99,-47.33],[5.04,-47.46],[4.99,-47.61],[5.09,-47.61],[5.16,-47.63],[5.02,-47.69],
  [5.18,-47.73],[5.01,-47.82],[5.23,-48.02],[5.16,-48.13],[5.16,-48.23],[5.16,-48.29],
  [5.38,-48.46],[5.42,-48.46],[5.47,-48.49],[5.67,-48.47],[5.70,-48.49],[5.77,-48.43],
  [5.79,-48.06],[5.88,-48.09],[5.50,-48.01],[5.54,-48.06],[5.57,-48.08],[5.45,-47.94],
  [5.47,-48.00],[5.66,-47.91],[5.74,-47.95],[5.45,-47.87],[5.40,-47.86],[5.44,-47.83],[5.50,-47.80],[5.54,-47.79],[5.59,-47.79],[5.64,-47.76],
  [5.70,-47.72],[5.73,-47.69],[5.81,-47.76],[5.83,-47.83],[5.38,-47.70],[5.42,-47.70],[5.65,-47.67],[5.54,-47.65],[5.72,-47.57],[5.81,-47.57],
  [5.82,-47.53],[5.90,-47.49],[5.18,-47.69],[5.24,-47.60],[5.32,-47.61],[5.38,-47.54],[5.38,-47.48],[5.23,-47.59],[5.21,-47.51],[5.42,-47.45],
  [5.34,-47.44],[5.28,-47.42],[5.26,-47.37],[5.34,-47.36],[5.40,-47.34],[5.48,-47.35],[5.57,-47.42],[5.73,-47.45],[5.88,-47.42],[5.26,-47.30],
  [5.36,-47.28],[5.50,-47.24],[5.60,-47.25],[5.74,-47.35],[5.76,-47.30],[5.81,-47.27],[5.11,-47.28],[5.01,-47.24],[5.26,-47.20],[5.32,-47.18],
  [5.40,-47.21],[5.17,-47.11],[5.20,-47.10],[5.57,-47.18],[5.62,-47.14],[5.69,-47.13],[5.74,-47.11],[5.80,-47.08],[5.84,-47.11],[5.47,-47.05],
  [5.52,-47.05],[5.59,-47.02],[5.66,-47.01],[5.73,-46.99],[5.82,-47.02],[5.89,-47.04],[5.36,-47.02],[5.38,-46.99],[5.44,-46.98],[5.12,-47.02],
  [5.18,-47.04],[5.22,-47.11],
  [4.94,-47.43],[5.03,-47.46],[5.01,-47.69],[4.99,-48.38],[5.11,-48.53],[5.16,-48.14],[5.14,-48.29],
  [5.24,-48.02],[5.26,-48.40],[5.24,-48.48],[5.18,-47.82],[5.26,-47.82],[5.22,-47.60],[5.30,-48.23],[5.38,-48.19],
  [5.40,-47.71],[5.40,-47.85],[5.45,-48.00],[5.52,-48.06],
  [5.51,-47.80],[5.56,-47.79],[5.61,-47.77],[5.70,-47.74],[5.64,-48.21],[5.70,-48.23],[5.66,-48.46],
  [5.80,-48.40],[5.76,-48.34],[5.82,-47.84],[5.84,-47.76],[5.89,-47.95],[5.89,-48.06],[5.93,-48.09],
  [5.93,-48.31],[5.98,-47.83],[6.00,-48.00],[6.04,-48.17],[6.06,-48.26],[6.10,-48.19],[6.10,-48.46],[6.12,-48.52],[6.09,-48.55],[6.18,-48.61],
  [6.23,-48.55],[6.20,-48.28],[6.24,-48.32],[6.18,-48.10],[6.21,-48.00],[6.16,-47.83],[6.03,-47.73],[6.04,-47.67],[6.02,-47.64],[5.98,-47.54],
  [6.11,-47.80],[6.26,-47.58],[6.36,-48.23],[6.38,-48.23],[6.35,-47.78],[6.42,-47.99],[6.44,-48.02],[6.45,-47.87],[6.50,-48.05],[6.50,-48.09],
  [6.50,-48.19],[6.54,-48.19],[6.46,-48.60],[6.49,-48.35],[6.57,-48.29],[6.60,-48.40],[6.64,-48.03],[6.70,-48.12],[6.72,-48.09],[6.72,-48.35],
  [6.73,-47.82],[6.75,-47.79],[6.81,-47.76],[6.83,-48.23],[6.87,-47.67],[6.91,-47.83],[6.99,-48.10],[6.98,-47.74],[7.03,-48.46],[7.10,-48.34],
  [7.15,-48.03],[7.20,-48.46],[7.25,-48.40],[7.29,-48.23],[7.35,-48.19],[7.39,-48.00],[7.42,-48.53],[7.49,-48.03],[7.49,-48.12],[7.44,-47.89],
  [7.55,-47.83],[7.61,-47.83],[7.69,-48.06],[7.64,-48.23],[7.78,-47.82],[7.83,-47.76],[7.93,-47.99],[7.98,-48.10],[8.00,-48.21],[7.98,-47.76],
  [7.87,-47.69],[7.83,-47.67],[7.74,-47.69],
  [5.84,-47.53],[5.91,-47.45],[6.00,-47.42],[6.06,-47.36],[6.10,-47.31],[6.14,-47.27],[6.20,-47.39],[6.26,-47.42],[6.32,-47.33],[6.38,-47.25],
  [6.44,-47.48],[6.50,-47.52],[6.54,-47.36],[6.61,-47.37],[6.66,-47.42],[6.70,-47.43],[6.76,-47.39],[6.84,-47.33],[6.89,-47.28],[6.93,-47.36],
  [7.00,-47.33],[7.05,-47.29],[7.11,-47.47],[7.15,-47.54],[7.25,-47.28],[7.28,-47.45],[7.41,-47.51],[7.49,-47.50],[7.53,-47.36],[7.57,-47.30],
  [7.61,-47.27],[7.66,-47.33],[7.74,-47.31],[7.89,-47.31],[7.98,-47.40],[7.73,-47.57],[7.83,-47.54],[7.93,-47.73],[7.39,-47.65],
  [6.18,-47.56],[6.24,-47.60],[6.32,-47.53],[6.40,-47.67],[6.48,-47.57],[6.58,-47.65],[6.66,-47.57]
];

const scanPoints = scanTop.concat(scanLowMass, scanFill, scanHighMass)
  .map(p => ({ x: p[0], y: Math.pow(10, p[1]) }));

function zip(xs, ys) {
  return xs.map((v, i) => ({ x: v, y: ys[i] }));
}

// draw a run of text pieces (font, baseline shift, horizontal squeeze)
function drawRuns(ctx, runs, x, y, align) {
  let total = 0;
  runs.forEach(r => {
    ctx.font = r.font;
    r.w = ctx.measureText(r.t).width * (r.sx || 1);
    total += r.w;
  });
  let cx = align === 'right' ? x - total : align === 'center' ? x - total / 2 : x;
  runs.forEach(r => {
    ctx.save();
    ctx.translate(cx, y + (r.dy || 0));
    ctx.scale(r.sx || 1, 1);
    ctx.font = r.font;
    ctx.textAlign = 'left';
    ctx.textBaseline = 'alphabetic';
    ctx.fillText(r.t, 0, 0);
    ctx.restore();
    cx += r.w;
  });
}

const SANS = '"Open Sans", "Noto Sans", sans-serif';
const SERIF = '"Liberation Serif", "DejaVu Serif", serif';

const framePlugin = {
  id: 'frame',
  afterDraw(chart) {
    const { ctx, chartArea: a, scales: { x, y } } = chart;
    ctx.save();
    ctx.strokeStyle = '#9a9a9a';
    ctx.lineWidth = 1;
    ctx.strokeRect(a.left + 0.5, a.top + 0.5, a.right - a.left - 1, a.bottom - a.top - 1);

    // x ticks, 0.2 TeV minor
    ctx.beginPath();
    for (let i = 0; i <= 35; i++) {
      const v = xRange[0] + i * 0.2;
      const px = Math.round(x.getPixelForValue(v)) + 0.5;
      const len = i % 5 === 0 ? 8 : 5;
      ctx.moveTo(px, a.bottom); ctx.lineTo(px, a.bottom - len);
      ctx.moveTo(px, a.top); ctx.lineTo(px, a.top + len);
    }
    // y ticks, decades + 2..9
    for (let d = -49; d <= -44; d++) {
      for (let k = 1; k <= 9; k++) {
        const v = k * Math.pow(10, d);
        if (v < yRange[0] || v > yRange[1]) continue;
        const py = Math.round(y.getPixelForValue(v)) + 0.5;
        const len = k === 1 ? 8 : 4;
        ctx.moveTo(a.left, py); ctx.lineTo(a.left + len, py);
        ctx.moveTo(a.right, py); ctx.lineTo(a.right - len, py);
      }
    }
    ctx.stroke();

    ctx.fillStyle = '#000';
    // y tick labels 10^n
    yDecades.forEach(d => {
      const py = y.getPixelForValue(Math.pow(10, d));
      drawRuns(ctx, [
        { t: '10', font: '600 31px ' + SANS, sx: 0.85, dy: 11 },
        { t: '\u2212' + Math.abs(d), font: '600 23px ' + SANS, dy: -1 }
      ], a.left - 7, py, 'right');
    });
    // x tick labels
    xTicks.forEach(v => {
      const px = x.getPixelForValue(v);
      drawRuns(ctx, [{ t: String(v), font: '600 35px ' + SANS, sx: 0.8 }], px, a.bottom + 34, 'center');
    });
    // x title
    drawRuns(ctx, [
      { t: 'm', font: 'italic 37px ' + SERIF },
      { t: 'DM', font: '24px ' + SANS, sx: 0.9, dy: 6 },
      { t: '  [TeV]', font: '600 34px ' + SANS, sx: 0.9 }
    ], (a.left + a.right) / 2, 666, 'center');
    // y title
    ctx.save();
    ctx.translate(52, 302);
    ctx.rotate(-Math.PI / 2);
    drawRuns(ctx, [
      { t: '\u03c3', font: 'italic 44px ' + SERIF },
      { t: 'DM\u2212', font: '26px ' + SANS, sx: 0.9, dy: 7 },
      { t: 'n', font: 'italic 27px ' + SERIF, dy: 7 },
      { t: ' [cm', font: '600 37px ' + SANS, sx: 0.9 },
      { t: '2', font: '600 24px ' + SANS, sx: 0.9, dy: -16 },
      { t: ']', font: '600 37px ' + SANS, sx: 0.9 }
    ], 0, 0, 'center');
    ctx.restore();

    // limit curve labels
    const xl = x.getPixelForValue(1.66), yl = y.getPixelForValue(Math.pow(10, -44.14));
    drawRuns(ctx, [
      { t: 'XENON1T ', font: '26px "DejaVu Sans", sans-serif' },
      { t: '(2017)', font: '26px ' + SANS, sx: 0.95 }
    ], xl, yl, 'left');
    const xp = x.getPixelForValue(4.106), yp = y.getPixelForValue(Math.pow(10, -44.633));
    drawRuns(ctx, [
      { t: 'Panda', font: '27px ' + SANS, sx: 0.85 },
      { t: 'X', font: '27px "DejaVu Sans", sans-serif' },
      { t: ' \u2212 ', font: '27px ' + SANS, sx: 0.9 },
      { t: 'II ', font: '27px ' + SERIF },
      { t: '(2017)', font: '27px ' + SANS, sx: 0.88 }
    ], xp, yp, 'left');
    ctx.restore();
  }
};

new Chart(document.getElementById('chart'), {
  type: 'scatter',
  data: {
    datasets: [
      {
        label: 'scan',
        data: scanPoints,
        pointRadius: 4.5,
        pointBackgroundColor: '#ff0000',
        pointBorderWidth: 0,
        showLine: false
      },
      {
        label: 'XENON1T (2017)',
        data: zip(xenonMass, xenonSigma),
        showLine: true,
        borderColor: '#000',
        borderWidth: 4,
        borderDash: [14, 6],
        pointRadius: 0,
        tension: 0
      },
      {
        label: 'PandaX-II (2017)',
        data: zip(pandaMass, pandaSigma),
        showLine: true,
        borderColor: '#000',
        borderWidth: 3.5,
        borderDash: [7, 4],
        pointRadius: 0,
        tension: 0
      }
    ]
  },
  options: {
    responsive: false,
    animation: false,
    devicePixelRatio: 1,
    layout: { padding: { top: 2, right: 12, left: 0, bottom: 0 } },
    plugins: { legend: { display: false }, tooltip: { enabled: false } },
    scales: {
      x: {
        type: 'linear', min: xRange[0], max: xRange[1],
        grid: { display: false }, border: { display: false },
        ticks: { display: false },
        afterFit: s => { s.height = 89; }
      },
      y: {
        type: 'logarithmic', min: yRange[0], max: yRange[1],
        grid: { display: false }, border: { display: false },
        ticks: { display: false },
        afterFit: s => { s.width = 143; }
      }
    }
  },
  plugins: [framePlugin]
});
</script>
</body>
</html>
